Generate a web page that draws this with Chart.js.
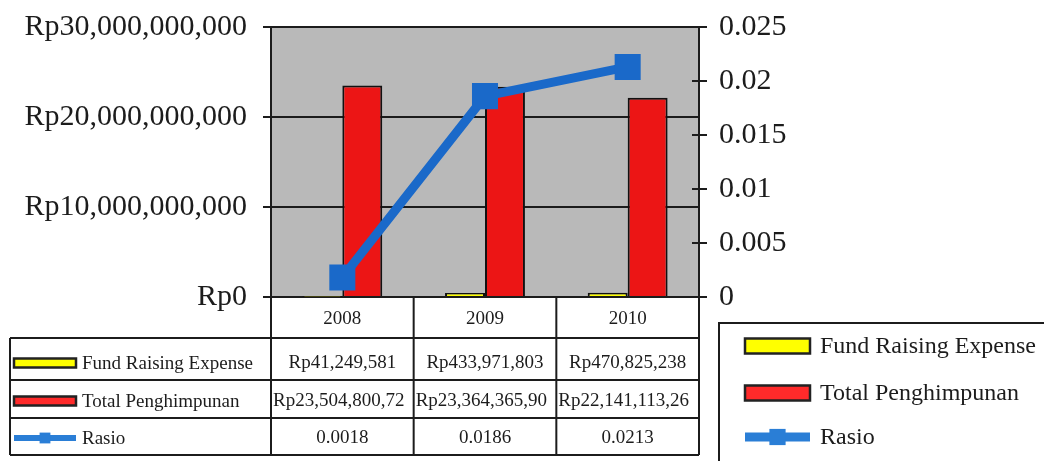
<!DOCTYPE html>
<html>
<head>
<meta charset="utf-8">
<script src="https://cdn.jsdelivr.net/npm/chart.js@4.4.1/dist/chart.umd.min.js"></script>
<style>
  html, body { margin:0; padding:0; background:#fff; }
  #wrap { width:1044px; height:461px; position:relative; }
</style>
</head>
<body>
<div id="wrap"><canvas id="chart" width="1044" height="461"></canvas></div>
<script>
// ── DATA ──
const years = ['2008', '2009', '2010'];
const fundRaisingExpense = [41249581, 433971803, 470825238];
const totalPenghimpunan = [23504800720, 23364365900, 22141113260];
const rasio = [0.0018, 0.0186, 0.0213];
const seriesNames = ['Fund Raising Expense', 'Total Penghimpunan', 'Rasio'];

const leftMax = 30000000000, leftStep = 10000000000;
const rightMax = 0.025, rightStep = 0.005;

const SERIF = "'Liberation Serif', 'DejaVu Serif', serif";
const INK = '#1c1c1c';
const YELLOW = '#ffff00', RED = '#ec1515', BLUE = '#1a69c9';

const fmtRp = v => 'Rp' + Math.round(v).toLocaleString('en-US');

// clip text into a cell, excel-style (overflowing numbers start at cell left)
function fitText(ctx, s, maxW) {
    let cut = false;
    while (s.length && ctx.measureText(s).width > maxW) { s = s.slice(0, -1); cut = true; }
    return { s, cut };
}

// key glyphs shared by table + legend
function drawKey(ctx, type, x, y, w, h) {
    if (type === 2) {
        ctx.fillStyle = '#2a7ed6';
        ctx.fillRect(x, y - h / 2, w, h);
        const m = h * 1.8;
        ctx.fillRect(x + w / 2 - m / 2, y - m / 2, m, m);
        return;
    }
    ctx.fillStyle = type === 0 ? YELLOW : '#ff2a2a';
    ctx.fillRect(x, y - h / 2, w, h);
    ctx.lineWidth = 2.5;
    ctx.strokeStyle = '#222';
    ctx.strokeRect(x, y - h / 2, w, h);
}

const plotBox = {
    id: 'plotBox',
    beforeDraw(chart) {
        const { ctx, chartArea: a } = chart;
        ctx.save();
        ctx.fillStyle = '#b9b9b9';
        ctx.fillRect(a.left, a.top, a.right - a.left, a.bottom - a.top);
        ctx.restore();
    },
    beforeDatasetsDraw(chart) {
        const { ctx, chartArea: a } = chart;
        ctx.save();
        ctx.strokeStyle = INK;
        ctx.lineWidth = 2;
        ctx.strokeRect(a.left, a.top, a.right - a.left, a.bottom - a.top);
        // right axis ticks cross the axis line
        const y1 = chart.scales.y1;
        ctx.beginPath();
        y1.ticks.forEach(t => {
            const py = Math.round(y1.getPixelForValue(t.value));
            ctx.moveTo(a.right - 7, py); ctx.lineTo(a.right, py);
        });
        ctx.stroke();
        ctx.restore();
    }
};

// data table under the plot, columns follow the x scale
const dataTable = {
    id: 'dataTable',
    afterDraw(chart) {
        const { ctx, chartArea: a } = chart;
        const xs = chart.scales.x;
        const cw = (a.right - a.left) / years.length;
        const rows = [a.bottom, 338, 380, 418, 455];
        const leftEdge = 10;
        ctx.save();
        ctx.strokeStyle = INK;
        ctx.lineWidth = 2;
        ctx.beginPath();
        for (let i = 0; i <= years.length; i++) {
            const x = a.left + i * cw;
            ctx.moveTo(x, rows[0]); ctx.lineTo(x, rows[4]);
        }
        ctx.moveTo(leftEdge, rows[1]); ctx.lineTo(leftEdge, rows[4]);
        for (let r = 1; r < rows.length; r++) {
            ctx.moveTo(leftEdge, rows[r]); ctx.lineTo(a.right, rows[r]);
        }
        ctx.stroke();

        ctx.font = '19px ' + SERIF;
        ctx.fillStyle = INK;
        ctx.textBaseline = 'middle';
        ctx.textAlign = 'center';
        years.forEach((y, i) => ctx.fillText(y, xs.getPixelForValue(i), (rows[0] + rows[1]) / 2 + 2));

        const rowText = [
            fundRaisingExpense.map(fmtRp),
            totalPenghimpunan.map(fmtRp),
            rasio.map(v => v.toFixed(4))
        ];
        rowText.forEach((vals, r) => {
            const cy = rows[r + 2] - 17;
            drawKey(ctx, r, 14, cy, 62, r === 2 ? 6 : 9);
            ctx.fillStyle = INK;
            ctx.textAlign = 'left';
            ctx.fillText(seriesNames[r], 82, cy + 1);
            vals.forEach((s, i) => {
                const x0 = a.left + i * cw;
                const f = fitText(ctx, s, cw - 4);
                if (f.cut) { ctx.textAlign = 'left'; ctx.fillText(f.s, x0 + 2, cy); }
                else { ctx.textAlign = 'center'; ctx.fillText(f.s, x0 + cw / 2, cy); }
            });
        });

        // legend box, bottom right
        ctx.lineWidth = 2;
        ctx.strokeStyle = INK;
        ctx.strokeRect(719, 323, 400, 200);
        ctx.font = '24px ' + SERIF;
        ctx.textAlign = 'left';
        const ly = [346, 393, 437];
        ly.forEach((y, r) => {
            drawKey(ctx, r, 745, y, 65, r === 2 ? 9 : 15);
            ctx.fillStyle = INK;
            ctx.fillText(seriesNames[r], 820, y + 1);
        });
        ctx.restore();
    }
};

new Chart(document.getElementById('chart'), {
    data: {
        labels: years,
        datasets: [
            {
                type: 'line', label: seriesNames[2], data: rasio, yAxisID: 'y1', order: 0,
                borderColor: BLUE, borderWidth: 9, backgroundColor: BLUE,
                pointStyle: 'rect', pointRadius: 18.4, pointBorderWidth: 0, tension: 0
            },
            {
                type: 'bar', label: seriesNames[0], data: fundRaisingExpense, yAxisID: 'y', order: 1,
                backgroundColor: YELLOW, borderColor: '#111', borderWidth: 2,
                barPercentage: 1, categoryPercentage: 0.56
            },
            {
                type: 'bar', label: seriesNames[1], data: totalPenghimpunan, yAxisID: 'y', order: 1,
                backgroundColor: RED, borderColor: '#111', borderWidth: 2,
                barPercentage: 1, categoryPercentage: 0.56
            }
        ]
    },
    options: {
        responsive: false, animation: false,
        layout: { padding: { top: 27, bottom: 164, left: 0, right: 0 } },
        plugins: { legend: { display: false }, tooltip: { enabled: false } },
        scales: {
            x: { display: false, offset: true },
            y: {
                position: 'left', min: 0, max: leftMax,
                afterFit: s => { s.width = 271; s.paddingTop = 0; s.paddingBottom = 0; },
                ticks: { stepSize: leftStep, color: INK, padding: 16, font: { family: SERIF, size: 30 }, callback: v => fmtRp(v) },
                grid: { color: INK, lineWidth: 2, tickLength: 8, tickColor: INK },
                border: { color: INK, width: 2 }
            },
            y1: {
                position: 'right', min: 0, max: rightMax,
                afterFit: s => { s.width = 345; s.paddingTop = 0; s.paddingBottom = 0; },
                ticks: { stepSize: rightStep, color: INK, padding: 12, font: { family: SERIF, size: 30 }, callback: v => String(+(+v).toFixed(3)) },
                grid: { drawOnChartArea: false, tickLength: 8, tickColor: INK, lineWidth: 2 },
                border: { color: INK, width: 2 }
            }
        }
    },
    plugins: [plotBox, dataTable]
});
</script>
</body>
</html>
